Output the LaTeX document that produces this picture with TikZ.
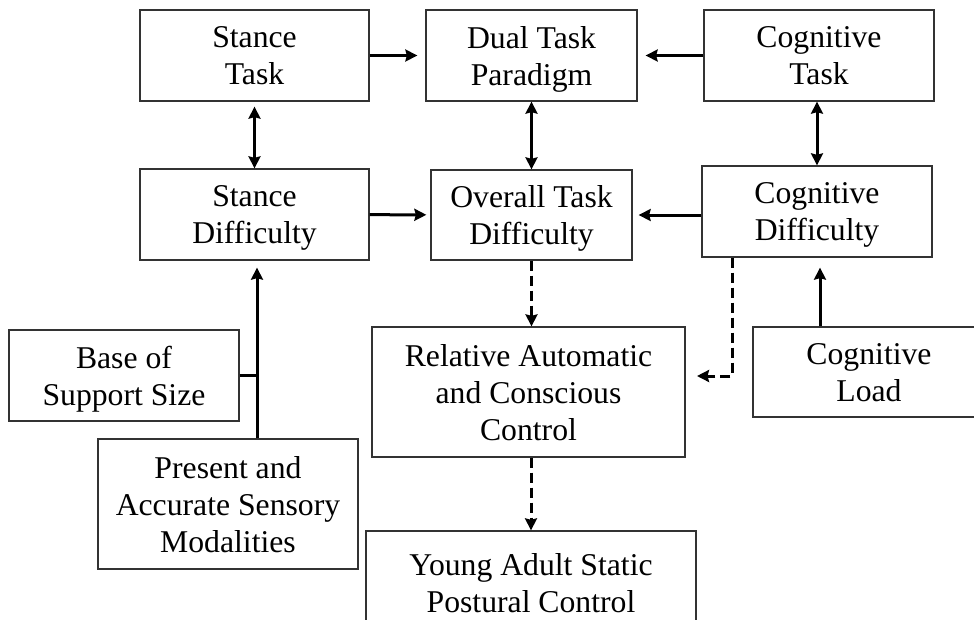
\documentclass[tikz,border=0pt]{standalone}
\usepackage{fontspec}
\setmainfont{Liberation Serif}
\usetikzlibrary{arrows.meta}
\definecolor{boxline}{HTML}{333333}
\tikzset{
    factor/.style={draw=boxline,line width=1.3pt,fill=white,align=center,inner sep=2pt,
      text depth=0pt,font=\fontsize{31.7}{37}\selectfont},
    flowarrow/.style={-{Stealth[length=12pt,width=12pt,inset=1.5pt]},line width=3pt},
    twoway/.style={{Stealth[length=12pt,width=12pt,inset=1.5pt]}-{Stealth[length=12pt,width=12pt,inset=1.5pt]},
      line width=3pt},
    dasharrow/.style={flowarrow,dash pattern=on 10pt off 5pt},
    plainline/.style={line width=3pt}
}
\begin{document}
\begin{tikzpicture}[x=1pt,y=-1pt]
  \useasboundingbox (0,0) rectangle (974,619);
  \clip (0,0) rectangle (974,619);
  % top row
  \node[factor,minimum width=229pt,minimum height=91pt] (stask) at (254.5,55.5) {Stance\\Task};
  \node[factor,minimum width=211pt,minimum height=91pt] (dual) at (531.5,55.5) {Dual Task\\Paradigm};
  \node[factor,minimum width=230pt,minimum height=91pt] (ctask) at (819,55.5) {Cognitive\\Task};
  % middle row
  \node[factor,minimum width=229pt,minimum height=91pt] (sdiff) at (254.5,214.5) {Stance\\Difficulty};
  \node[factor,minimum width=201pt,minimum height=90pt] (overall) at (531.5,215) {Overall Task\\Difficulty};
  \node[factor,minimum width=230pt,minimum height=91pt] (cdiff) at (817,211.5) {Cognitive\\Difficulty};
  % inputs and outcome
  \node[factor,minimum width=230pt,minimum height=91pt] (base) at (124,375.5) {Base of\\Support Size};
  \node[factor,minimum width=260pt,minimum height=130pt] (present) at (228,504) {Present and\\Accurate Sensory\\Modalities};
  \node[factor,minimum width=313pt,minimum height=130pt] (relctl) at (528.5,392) {Relative Automatic\\and Conscious\\Control};
  \node[factor,minimum width=232pt,minimum height=90pt] (cload) at (869,372) {Cognitive\\Load};
  \node[factor,minimum width=330pt,minimum height=104pt] (young) at (531,583) {Young Adult Static\\Postural Control};
  \coordinate (cdtip) at (697,376);
  % connectors
  \draw[flowarrow,shorten >=8pt] (stask) -- (dual);
  \draw[flowarrow,shorten >=8pt] (ctask) -- (dual);
  \draw[twoway,shorten <=5pt] (stask) -- (sdiff);
  \draw[twoway] (dual) -- (overall);
  \draw[twoway] (cdiff.north |- ctask.south) -- (cdiff.north);
  \draw[flowarrow,shorten >=4pt] (sdiff) -- (overall);
  \draw[flowarrow,shorten >=6pt] (cdiff.west |- overall) -- (overall);
  \draw[dasharrow] (overall.south) -- (overall.south |- relctl.north);
  \draw[dasharrow] (relctl.south -| young) -- (young);
  \draw[dasharrow] ([xshift=-85pt]cdiff.south) |- (cdtip);
  \draw[flowarrow,shorten >=10pt] ([xshift=3pt]cdiff.south |- cload.north) -- ([xshift=3pt]cdiff.south);
  \draw[flowarrow,shorten >=7pt] ([xshift=2.5pt]sdiff.south |- present.north) -- ([xshift=2.5pt]sdiff.south);
  \draw[plainline] (base.east) -- ([xshift=2.5pt]sdiff.south |- base.east);
\end{tikzpicture}
\end{document}
